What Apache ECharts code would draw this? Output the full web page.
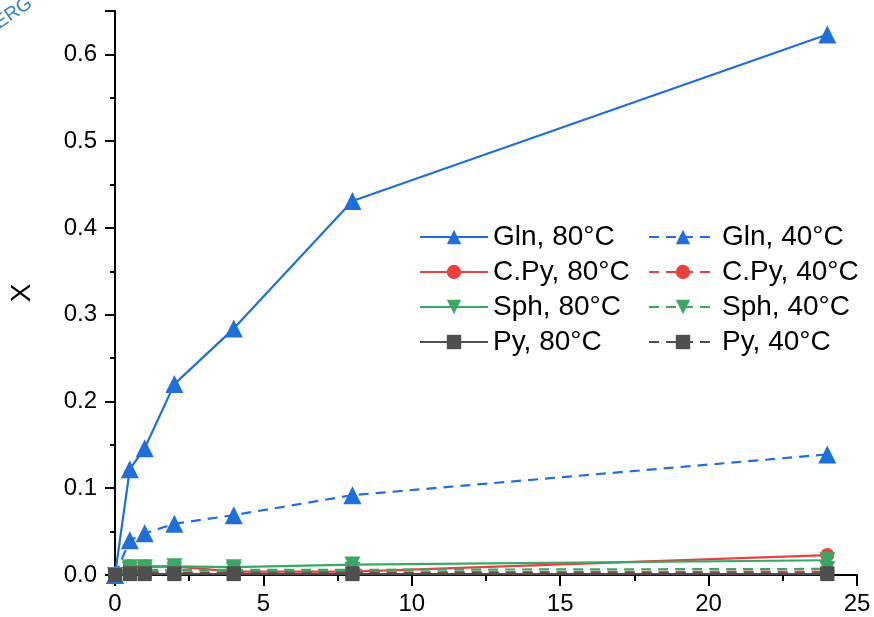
<!DOCTYPE html>
<html style="height: 100%">
<head>
    <meta charset="utf-8">
    <script src="https://cdn.jsdelivr.net/npm/echarts@6/dist/echarts.min.js"></script>
</head>
<body style="height: 100%; margin: 0; background: #fff">
    <div id="main" style="width: 874px; height: 617px"></div>
    <script type="text/javascript">
        // reaction time (h)
        var times = [0, 0.5, 1, 2, 4, 8, 24];

        // conversion X per substrate
        var gln80 = [0, 0.122, 0.146, 0.220, 0.284, 0.431, 0.623];
        var gln40 = [0, 0.040, 0.048, 0.059, 0.069, 0.092, 0.139];
        var cpy80 = [0, 0.010, 0.010, 0.010, 0.004, 0.004, 0.023];
        var cpy40 = [0, 0.004, 0.004, 0.003, 0.003, 0.003, 0.004];
        var sph80 = [0, 0.009, 0.009, 0.010, 0.009, 0.012, 0.017];
        var sph40 = [0, 0.006, 0.006, 0.006, 0.006, 0.006, 0.007];
        var py80 = [0, 0.001, 0.001, 0.001, 0.001, 0.001, 0.001];
        var py40 = [0, 0.002, 0.002, 0.002, 0.002, 0.002, 0.002];

        var names80 = ['Gln, 80°C', 'C.Py, 80°C', 'Sph, 80°C', 'Py, 80°C'];
        var names40 = ['Gln, 40°C', 'C.Py, 40°C', 'Sph, 40°C', 'Py, 40°C'];

        var FONT = "'Liberation Sans', Arial, sans-serif";
        var BLUE = '#1f6fdb', RED = '#e8413f', GREEN = '#3aa864', GREY = '#4f4f4f';

        function pairs(ys) {
            return times.map(function (t, i) { return [t, ys[i]]; });
        }

        function mkSeries(name, ys, color, symbol, size, dashed, rot) {
            return {
                name: name,
                type: 'line',
                data: pairs(ys),
                symbol: symbol,
                symbolSize: size,
                symbolRotate: rot || 0,
                showAllSymbol: true,
                animation: false,
                itemStyle: { color: color },
                lineStyle: { color: color, width: 2.2, type: dashed ? [10, 7] : 'solid' }
            };
        }

        var myChart = echarts.init(document.getElementById('main'));

        var legendBase = {
            orient: 'vertical',
            top: 218,
            itemWidth: 68,
            itemHeight: 18,
            itemGap: 7,
            textStyle: { fontFamily: FONT, fontSize: 28, color: '#000' }
        };

        var option = {
            backgroundColor: '#fff',
            textStyle: { fontFamily: FONT },
            grid: { left: 115, right: 17, top: 11, bottom: 42 },
            graphic: [{
                type: 'text',
                x: -9, y: 17,
                rotation: 0.6,
                style: { text: 'ERG', fill: '#2f7fc4', font: '19px ' + FONT }
            }],
            legend: [
                Object.assign({ left: 414, data: names80 }, legendBase),
                Object.assign({ left: 643, data: names40 }, legendBase)
            ],
            xAxis: {
                type: 'value',
                min: 0, max: 25, interval: 5,
                axisLine: { lineStyle: { color: '#000', width: 2 } },
                axisTick: { show: true, length: 11, lineStyle: { color: '#000', width: 2 } },
                minorTick: { show: true, splitNumber: 2, length: 6, lineStyle: { color: '#000', width: 2 } },
                splitLine: { show: false },
                axisLabel: { color: '#000', fontSize: 24, margin: 17, fontFamily: FONT }
            },
            yAxis: {
                type: 'value',
                min: 0, max: 0.65, interval: 0.1,
                name: 'X',
                nameLocation: 'middle',
                nameRotate: 90,
                nameGap: 79,
                nameTextStyle: { color: '#000', fontSize: 28, fontFamily: FONT },
                axisLine: { show: true, lineStyle: { color: '#000', width: 2 } },
                axisTick: { show: true, length: 10, lineStyle: { color: '#000', width: 2 } },
                minorTick: { show: true, splitNumber: 2, length: 5, lineStyle: { color: '#000', width: 2 } },
                splitLine: { show: false },
                axisLabel: {
                    color: '#000', fontSize: 24, margin: 18, fontFamily: FONT,
                    showMaxLabel: false,
                    formatter: function (v) { return v.toFixed(1); }
                }
            },
            series: [
                mkSeries('Gln, 80°C', gln80, BLUE, 'triangle', 18, false),
                mkSeries('Gln, 40°C', gln40, BLUE, 'triangle', 18, true),
                mkSeries('C.Py, 80°C', cpy80, RED, 'circle', 14, false),
                mkSeries('C.Py, 40°C', cpy40, RED, 'circle', 14, true),
                mkSeries('Sph, 80°C', sph80, GREEN, 'triangle', 16, false, 180),
                mkSeries('Sph, 40°C', sph40, GREEN, 'triangle', 16, true, 180),
                mkSeries('Py, 80°C', py80, GREY, 'rect', 14, false),
                mkSeries('Py, 40°C', py40, GREY, 'rect', 14, true)
            ]
        };

        myChart.setOption(option);
    </script>
</body>
</html>
